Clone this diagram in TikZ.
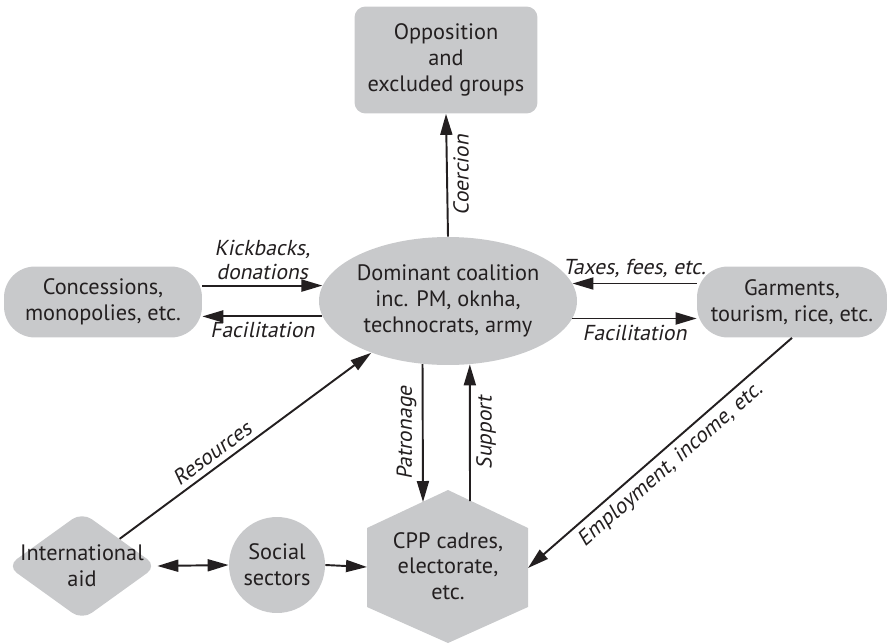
\documentclass[tikz,border=0pt]{standalone}
\usepackage{fontspec}
\setmainfont{PT Sans}
\newfontfamily\slantsans[FakeSlant=0.2]{PT Sans}
\usepackage{tikz}
\usetikzlibrary{arrows.meta,positioning,shapes.geometric,calc}
\definecolor{shgray}{HTML}{C8C9CB}
\definecolor{inkdk}{HTML}{231F20}
\tikzset{
  every picture/.append style={font=\fontsize{12.7}{14.6}\selectfont, text=inkdk},
  box/.style      = {rectangle, fill=shgray, rounded corners=0.22cm,
                     minimum width=3.66cm, minimum height=2.14cm,
                     align=center, inner sep=2pt},
  pill/.style     = {rectangle, fill=shgray, rounded corners=0.62cm,
                     minimum height=1.42cm, align=center, inner sep=2pt},
  blob/.style     = {ellipse, fill=shgray, minimum width=4.94cm,
                     minimum height=2.56cm, align=center, inner sep=0pt},
  gem/.style      = {diamond, fill=shgray, rounded corners=0.24cm,
                     minimum width=3.0cm, minimum height=2.16cm, inner sep=0pt},
  ring/.style     = {circle, fill=shgray, minimum size=1.92cm,
                     align=center, inner sep=0pt},
  arr/.style      = {-{Triangle[length=4.2mm,width=2.4mm]}, line width=1.1pt, draw=inkdk},
  rarr/.style     = {{Triangle[length=4.2mm,width=2.4mm]}-, line width=1.1pt, draw=inkdk},
  darr/.style     = {{Triangle[length=4.2mm,width=2.4mm]}-{Triangle[length=4.2mm,width=2.4mm]},
                     line width=1.1pt, draw=inkdk},
  lab/.style      = {font=\fontsize{12.3}{13.6}\selectfont\slantsans, align=center, inner sep=3pt},
}
\begin{document}
\begin{tikzpicture}[x=0.02cm, y=-0.02cm]
  \useasboundingbox (0,0) rectangle (890,643);
  % actors
  \node[box]  (opp) at (446,60)  {Opposition\\and\\excluded groups};
  \node[blob] (dom) at (448,301) {Dominant coalition\\inc. PM, oknha,\\technocrats, army};
  \node[pill, minimum width=3.96cm] (con) at (103,302) {Concessions,\\monopolies, etc.};
  \node[pill, minimum width=3.8cm]  (gar) at (792,302) {Garments,\\tourism, rice, etc.};
  \node[gem]  (aid) at (82,566) {};
  \node[align=center] at (aid.center) {International\\aid};
  \node[ring] (soc) at (277,565) {Social\\sectors};
  % hexagon for the base
  \fill[shgray] (448,490) -- (528,528) -- (528,607) -- (448,643)
                -- (367,607) -- (367,528) -- cycle;
  \node[align=center] (cpp) at (448,566) {CPP cadres,\\electorate,\\etc.};
  \coordinate (cppW)  at (367,567);
  \coordinate (cppE)  at (528,568);
  \coordinate (cppPa) at (423,502);
  \coordinate (cppSu) at (470,501);
  % flows
  \draw[arr] (dom.north) -- (opp.south)
    node[midway, lab, anchor=north, rotate=90] {Coercion};
  \draw[arr] (con.east |- dom.173) -- (dom.173)
    node[midway, lab, above] {Kickbacks,\\donations};
  \draw[arr] (dom.187) -- (con.east |- dom.187)
    node[midway, lab, below] {Facilitation};
  \draw[arr] (gar.west |- dom.8) -- (dom.8)
    node[midway, lab, above] {Taxes, fees, etc.};
  \draw[arr] (dom.352) -- (gar.west |- dom.352)
    node[midway, lab, below] {Facilitation};
  \draw[arr] (dom.248) -- (cppPa)
    node[midway, lab, anchor=south, rotate=90] {Patronage};
  \draw[arr] (cppSu) -- (dom.289)
    node[midway, lab, anchor=north, rotate=90] {Support};
  \draw[arr] (aid.north east) -- (dom.214)
    node[pos=0.4, lab, sloped, above] {Resources};
  \draw[rarr] (cppE) -- (gar.south)
    node[pos=0.5, lab, sloped, below] {Employment, income, etc.};
  \draw[darr] (aid.east) -- (soc.west);
  \draw[arr] (soc.east) -- (cppW);
\end{tikzpicture}
\end{document}
